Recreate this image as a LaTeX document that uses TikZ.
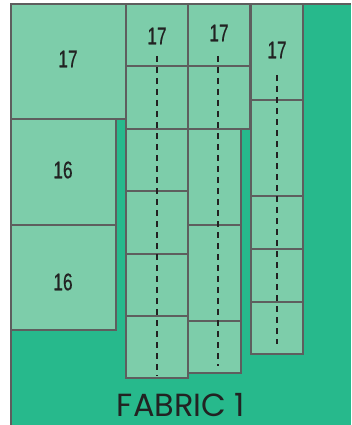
\documentclass[tikz,border=0pt]{standalone}
\usepackage{fontspec}
\newfontfamily\numfont[FakeStretch=0.72, FakeBold=0.4]{Liberation Sans}
\newfontfamily\titlefont{Poppins}
\definecolor{bggreen}{HTML}{27B98C}
\definecolor{piecefill}{HTML}{7DCDAA}
\definecolor{edge}{HTML}{5E5E5E}
\definecolor{ink}{HTML}{222222}
\tikzset{
  piece/.style={draw=edge, fill=piecefill, line width=1.1pt},
  numlabel/.style={text=ink, font=\numfont\fontsize{24}{24}\selectfont, inner sep=0pt},
  foldline/.style={draw=ink, line width=1.4pt, dash pattern=on 6pt off 5pt},
}
\begin{document}
\begin{tikzpicture}[x=1pt,y=-1pt]
\useasboundingbox (0,0) rectangle (351,425);
% background fabric
\fill[bggreen] (11,4) rectangle (351,425);
\draw[edge, line width=1.1pt] (11,425) -- (11,4) -- (351,4);
% left pieces
\path[piece] (11,4) rectangle (126,119);
\path[piece] (11,119) rectangle (116,225);
\path[piece] (11,225) rectangle (116,330);
\node[numlabel] (a) at (68,59) {17};
\node[numlabel] (b) at (63,170) {16};
\node[numlabel] (c) at (63,282) {16};
% column 1
\foreach \ya/\yb in {4/66,66/129,129/191,191/254,254/316,316/378}
  \path[piece] (126,\ya) rectangle (188,\yb);
% column 2
\path[piece] (188,4) rectangle (250,66);
\path[piece] (188,66) rectangle (250,129);
\path[piece] (188,129) rectangle (241,225);
\path[piece] (188,225) rectangle (241,321);
\path[piece] (188,321) rectangle (241,373);
% column 3
\path[piece] (251,4) rectangle (303,100);
\path[piece] (251,100) rectangle (303,196);
\path[piece] (251,196) rectangle (303,249);
\path[piece] (251,249) rectangle (303,302);
\path[piece] (251,302) rectangle (303,354);
% labels
\node[numlabel] (l1) at (157,36) {17};
\node[numlabel] (l2) at (219,33) {17};
\node[numlabel] (l3) at (277,50) {17};
% fold lines
\coordinate (f1a) at (157,56); \coordinate (f1b) at (157,376);
\coordinate (f2a) at (218,56); \coordinate (f2b) at (218,366);
\coordinate (f3a) at (277,75); \coordinate (f3b) at (277,344);
\draw[foldline] (f1a) -- (f1b);
\draw[foldline] (f2a) -- (f2b);
\draw[foldline] (f3a) -- (f3b);
% title
\node[text=ink, font=\titlefont\fontsize{32}{32}\selectfont, inner sep=0pt, text depth=0pt, anchor=base] (title) at (181,416) {FABRIC 1};
\end{tikzpicture}
\end{document}
